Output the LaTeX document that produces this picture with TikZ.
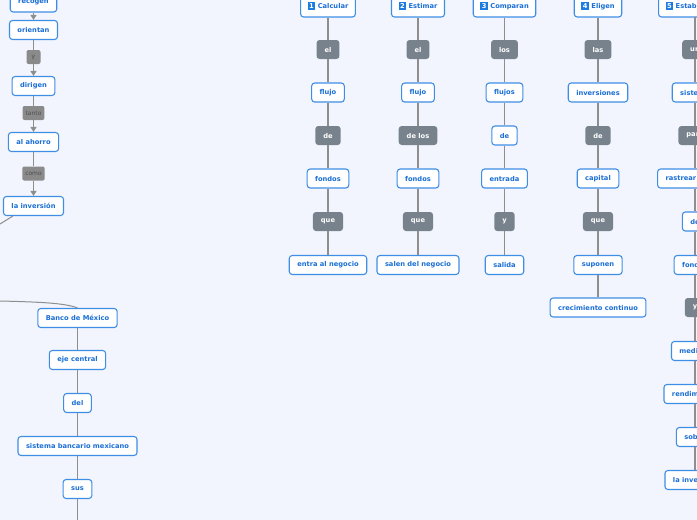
\documentclass[tikz,border=0pt]{standalone}
\usepackage{fontspec}
\setmainfont{DejaVu Sans}
\usetikzlibrary{arrows.meta}
\definecolor{bgc}{HTML}{F2F5FD}
\definecolor{bbord}{HTML}{3F8EE6}
\definecolor{btext}{HTML}{1A6FD6}
\definecolor{gfill}{HTML}{78828C}
\definecolor{lfill}{HTML}{8A8A8A}
\definecolor{ltext}{HTML}{4E4E4E}
\definecolor{conc}{HTML}{8E8E8E}
\definecolor{badge}{HTML}{1C7CE0}
\newcommand{\bdg}[1]{{\setlength{\fboxsep}{1.4pt}\colorbox{badge}{\textcolor{white}{\makebox[5pt]{#1}}}}}
\tikzset{
  box/.style={draw=bbord, line width=1.1pt, fill=white, rounded corners=3pt,
    text=btext, font=\fontsize{6.7}{8}\selectfont\bfseries, inner xsep=8pt, inner ysep=0pt,
    minimum height=19pt},
  gbox/.style={fill=gfill, rounded corners=3pt, text=white,
    font=\fontsize{6.7}{8}\selectfont\bfseries, inner xsep=8pt, inner ysep=0pt, minimum height=19pt},
  lbl/.style={fill=lfill, rounded corners=2pt, text=ltext,
    font=\fontsize{6}{7}\selectfont, inner xsep=3pt, inner ysep=0pt, minimum height=14pt, minimum width=14pt},
  hdr/.style={box, minimum height=22pt, inner xsep=7pt},
  conn/.style={draw=conc, line width=1.3pt},
  arr/.style={conn, -{Triangle[width=6pt,length=5pt]}}
}
\begin{document}
\begin{tikzpicture}[x=1pt,y=-1pt]
\fill[bgc] (0,0) rectangle (697,520);
\useasboundingbox (0,0) rectangle (697,520);
% left column
\node[box] (rec) at (33.5,2.5) {recogen};
\node[box] (ori) at (33.5,30) {orientan};
\node[lbl] (ly) at (33.5,57) {y};
\node[box] (dir) at (33.5,86) {dirigen};
\node[lbl] (lt) at (33.5,113) {tanto};
\node[box] (aho) at (33.5,142) {al ahorro};
\node[lbl] (lc) at (33.5,173.5) {como};
\node[box] (inv) at (33.5,206) {la inversión};
\draw[arr] (rec) -- (ori);
\draw[conn] (ori) -- (ly);
\draw[arr] (ly) -- (dir);
\draw[conn] (dir) -- (lt);
\draw[arr] (lt) -- (aho);
\draw[conn] (aho) -- (lc);
\draw[arr] (lc) -- (inv);
\coordinate (c2) at (0,224);
\draw[conn, line width=1pt] ([xshift=10pt]inv.south west) -- (c2);
% Banco column
\coordinate (c1) at (0,301);
\node[box] (bm) at (77.5,318) {Banco de México};
\node[box] (eje) at (77.5,360) {eje central};
\node[box] (del) at (77.5,403) {del};
\node[box] (sbm) at (77.5,446) {sistema bancario mexicano};
\node[box] (sus) at (77.5,489) {sus};
\coordinate (c3) at (77.5,520);
\draw[conn, line width=1pt] (c1) .. controls (40,302) and (65,303) .. (bm.north);
\draw[conn] (bm) -- (eje);
\draw[conn] (eje) -- (del);
\draw[conn] (del) -- (sbm);
\draw[conn] (sbm) -- (sus);
\draw[conn] (sus) -- (c3);
% column 1
\node[hdr] (h1) at (328,6) {\bdg{1} Calcular};
\node[gbox] (a1) at (328,49.5) {el};
\node[box] (a2) at (328,92.5) {flujo};
\node[gbox] (a3) at (328,135.5) {de};
\node[box] (a4) at (328,178.5) {fondos};
\node[gbox] (a5) at (328,221.5) {que};
\node[box] (a6) at (328,265) {entra al negocio};
\foreach \p/\q in {h1/a1,a1/a2,a2/a3,a3/a4,a4/a5,a5/a6} \draw[conn] (\p) -- (\q);
% column 2
\node[hdr] (h2) at (418,6) {\bdg{2} Estimar};
\node[gbox] (b1) at (418,49.5) {el};
\node[box] (b2) at (418,92.5) {flujo};
\node[gbox] (b3) at (418,135.5) {de los};
\node[box] (b4) at (418,178.5) {fondos};
\node[gbox] (b5) at (418,221.5) {que};
\node[box] (b6) at (418,265) {salen del negocio};
\foreach \p/\q in {h2/b1,b1/b2,b2/b3,b3/b4,b4/b5,b5/b6} \draw[conn] (\p) -- (\q);
% column 3
\node[hdr] (h3) at (504.5,6) {\bdg{3} Comparan};
\node[gbox] (d1) at (504.5,49.5) {los};
\node[box] (d2) at (504.5,92.5) {flujos};
\node[box] (d3) at (504.5,135.5) {de};
\node[box] (d4) at (504.5,178.5) {entrada};
\node[gbox] (d5) at (504.5,221.5) {y};
\node[box] (d6) at (504.5,265) {salida};
\foreach \p/\q in {h3/d1,d1/d2,d2/d3,d3/d4,d4/d5,d5/d6} \draw[conn] (\p) -- (\q);
% column 4
\node[hdr] (h4) at (598,6) {\bdg{4} Eligen};
\node[gbox] (e1) at (598,49.5) {las};
\node[box] (e2) at (598,92.5) {inversiones};
\node[gbox] (e3) at (598,135.5) {de};
\node[box] (e4) at (598,178.5) {capital};
\node[gbox] (e5) at (598,221.5) {que};
\node[box] (e6) at (598,265) {suponen};
\node[box] (e7) at (598,307.5) {crecimiento continuo};
\foreach \p/\q in {h4/e1,e1/e2,e2/e3,e3/e4,e4/e5,e5/e6,e6/e7} \draw[conn] (\p) -- (\q);
% column 5
\node[hdr, anchor=west] (h5) at (658,6) {\bdg{5} Establecer};
\node[gbox] (f1) at (695,49.5) {un};
\node[box] (f2) at (695,92.5) {sistema};
\node[gbox] (f3) at (695,135.5) {para};
\node[box] (f4) at (695,178.5) {rastrear el flujo};
\node[box] (f5) at (695,221.5) {de};
\node[box] (f6) at (695,265) {fondos};
\node[gbox] (f7) at (695,307.5) {y};
\node[box] (f8) at (695,351) {medir el};
\node[box] (f9) at (695,394) {rendimiento};
\node[box] (f10) at (695,437) {sobre};
\node[box] (f11) at (695,480) {la inversión};
\coordinate (h5b) at (695,17);
\draw[conn] (h5b) -- (f1);
\foreach \p/\q in {f1/f2,f2/f3,f3/f4,f4/f5,f5/f6,f6/f7,f7/f8,f8/f9,f9/f10,f10/f11} \draw[conn] (\p) -- (\q);
\end{tikzpicture}
\end{document}
